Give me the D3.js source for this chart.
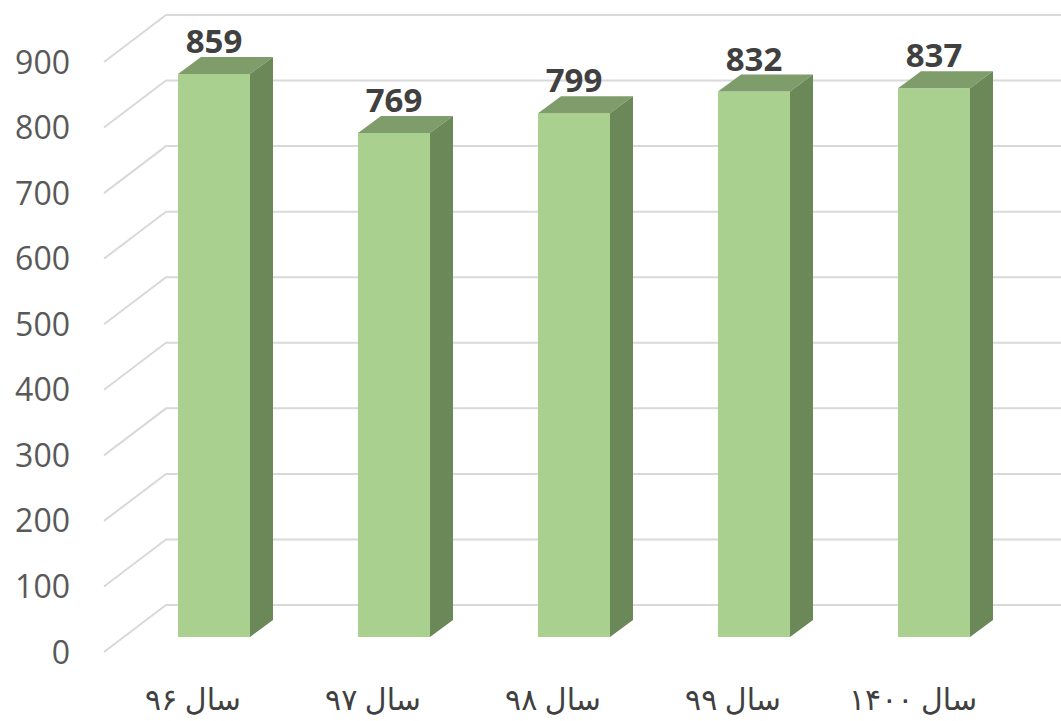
<!DOCTYPE html>
<html>
<head>
<meta charset="utf-8">
<script src="https://cdn.jsdelivr.net/npm/d3@7"></script>
<style>
  html, body { margin: 0; padding: 0; background: #ffffff; }
</style>
</head>
<body>
<div id="chart"></div>
<script>
// ############################################################################
// 3D column chart (Excel style)
// ############################################################################

// ----------------------------------------------------------------------------
// Data
// ----------------------------------------------------------------------------

const categories = ['سال ۹۶', 'سال ۹۷', 'سال ۹۸', 'سال ۹۹', 'سال ۱۴۰۰']
const values     = [859, 769, 799, 832, 837]
const yTicks     = [0, 100, 200, 300, 400, 500, 600, 700, 800, 900]

// ----------------------------------------------------------------------------
// Dimensions
// ----------------------------------------------------------------------------

const width  = 1061
const height = 721

// back wall and the perspective shift towards the viewer
const wall = { left: 166, right: 1061, top: 15, bottom: 605 }
const floorShift = { dx: -62, dy: 47 }    // back wall -> front edge of floor
const barShift   = { dx: -20, dy: 32 }    // back wall -> front face of bars
const barDepth   = { dx: 23,  dy: -17 }   // front face -> back face of bar

const colors = {
  front : '#a9d08e',
  top   : '#7f9d6a',
  side  : '#6b8858',
  grid  : '#d9d9d9',
  tick  : '#595959',
  label : '#404040'
}

// ----------------------------------------------------------------------------
// Scales
// ----------------------------------------------------------------------------

// y on the back wall
const y = d3.scaleLinear()
  .domain([0, 900])
  .range([wall.bottom, wall.top])

// x of the bar front faces
const x = d3.scaleBand()
  .domain(categories)
  .range([124, 1024])
  .paddingInner(0.6)
  .paddingOuter(0.3)

// ----------------------------------------------------------------------------
// Canvas
// ----------------------------------------------------------------------------

const svg = d3.select('#chart')
  .append('svg')
  .attr('width', width)
  .attr('height', height)
  .style('font-family', '"Open Sans", "Noto Sans", sans-serif')

// ----------------------------------------------------------------------------
// Gridlines: back wall + diagonal on the side wall
// ----------------------------------------------------------------------------

const grid = svg.append('g')
  .attr('fill', 'none')
  .attr('stroke', colors.grid)
  .attr('stroke-width', 2)

grid.selectAll('path')
  .data(yTicks)
  .join('path')
  .attr('d', d => 'M' + (wall.left + floorShift.dx) + ',' + (y(d) + floorShift.dy)
    + 'L' + wall.left + ',' + y(d)
    + 'L' + wall.right + ',' + y(d))

// ----------------------------------------------------------------------------
// Y axis labels (at the front end of each diagonal)
// ----------------------------------------------------------------------------

svg.append('g')
  .selectAll('text')
  .data(yTicks)
  .join('text')
  .attr('x', 70)
  .attr('y', d => y(d) + floorShift.dy)
  .attr('dy', '0.36em')
  .attr('text-anchor', 'end')
  .attr('fill', colors.tick)
  .style('font-size', '32px')
  .text(d => d)

// ----------------------------------------------------------------------------
// Bars: front, top and side faces
// ----------------------------------------------------------------------------

const bars = svg.append('g')
  .selectAll('g')
  .data(values.map((v, i) => ({ cat: categories[i], value: v })))
  .join('g')

const fx = d => x(d.cat)
const fw = x.bandwidth()
const fTop = d => y(d.value) + barShift.dy
const fBot = y(0) + barShift.dy

// front face
bars.append('rect')
  .attr('x', fx)
  .attr('y', fTop)
  .attr('width', fw)
  .attr('height', d => fBot - fTop(d))
  .attr('fill', colors.front)

// top face
bars.append('path')
  .attr('fill', colors.top)
  .attr('d', d => {
    let x0 = fx(d), y0 = fTop(d)
    return 'M' + x0 + ',' + y0
      + 'L' + (x0 + fw) + ',' + y0
      + 'L' + (x0 + fw + barDepth.dx) + ',' + (y0 + barDepth.dy)
      + 'L' + (x0 + barDepth.dx) + ',' + (y0 + barDepth.dy) + 'Z'
  })

// side face
bars.append('path')
  .attr('fill', colors.side)
  .attr('d', d => {
    let x1 = fx(d) + fw, y0 = fTop(d)
    return 'M' + x1 + ',' + y0
      + 'L' + (x1 + barDepth.dx) + ',' + (y0 + barDepth.dy)
      + 'L' + (x1 + barDepth.dx) + ',' + (fBot + barDepth.dy)
      + 'L' + x1 + ',' + fBot + 'Z'
  })

// data labels
bars.append('text')
  .attr('x', d => fx(d) + fw / 2)
  .attr('y', d => fTop(d) + barDepth.dy - 4)
  .attr('text-anchor', 'middle')
  .attr('fill', colors.label)
  .style('font-size', '33px')
  .style('font-weight', 'bold')
  .text(d => d.value)

// ----------------------------------------------------------------------------
// Category labels (on the front edge of the floor)
// ----------------------------------------------------------------------------

svg.append('g')
  .selectAll('text')
  .data(categories)
  .join('text')
  .attr('x', d => x(d) + fw / 2 + (floorShift.dx - barShift.dx) * 0.5)
  .attr('y', 710)
  .attr('text-anchor', 'middle')
  .attr('direction', 'rtl')
  .attr('fill', colors.label)
  .style('font-family', '"Times New Roman", "Liberation Serif", "DejaVu Sans", serif')
  .style('font-size', '30px')
  .text(d => d)
</script>
</body>
</html>
